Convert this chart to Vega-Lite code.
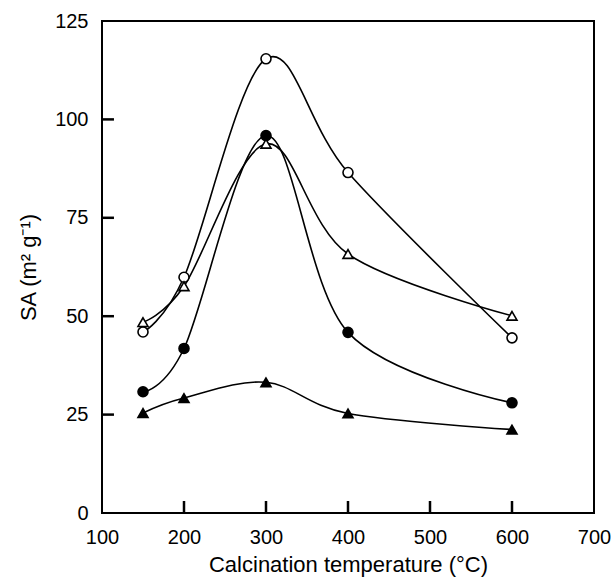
{
  "$schema": "https://vega.github.io/schema/vega-lite/v6.json",
  "width": 492,
  "height": 492,
  "autosize": "none",
  "padding": {"left": 102, "top": 21, "right": 19, "bottom": 66},
  "background": "white",
  "config": {
    "font": "Liberation Sans",
    "view": {"stroke": "black", "strokeWidth": 2},
    "axis": {
      "domain": false,
      "ticks": false,
      "labelColor": "black", "labelFontSize": 20, "labelFont": "Liberation Sans",
      "titleColor": "black", "titleFontSize": 22, "titleFontWeight": "normal", "titleFont": "Liberation Sans",
      "grid": false
    }
  },
  "datasets": {
    "curves": [
      {"T": 150, "SA": 46.0, "series": "A"},
      {"T": 200, "SA": 59.9, "series": "A"},
      {"T": 300, "SA": 115.4, "series": "A"},
      {"T": 400, "SA": 86.5, "series": "A"},
      {"T": 600, "SA": 44.5, "series": "A"},
      {"T": 150, "SA": 30.8, "series": "B"},
      {"T": 200, "SA": 41.8, "series": "B"},
      {"T": 300, "SA": 95.9, "series": "B"},
      {"T": 400, "SA": 45.9, "series": "B"},
      {"T": 600, "SA": 28.0, "series": "B"},
      {"T": 150, "SA": 48.5, "series": "C"},
      {"T": 200, "SA": 57.6, "series": "C"},
      {"T": 300, "SA": 93.8, "series": "C"},
      {"T": 400, "SA": 65.8, "series": "C"},
      {"T": 600, "SA": 50.1, "series": "C"},
      {"T": 150, "SA": 25.4, "series": "D"},
      {"T": 200, "SA": 29.2, "series": "D"},
      {"T": 300, "SA": 33.2, "series": "D"},
      {"T": 400, "SA": 25.3, "series": "D"},
      {"T": 600, "SA": 21.2, "series": "D"}
    ],
    "ticks": [
      {"T": 200, "SA": 0, "k": "x200"}, {"T": 200, "SA": 3.05, "k": "x200"},
      {"T": 300, "SA": 0, "k": "x300"}, {"T": 300, "SA": 3.05, "k": "x300"},
      {"T": 400, "SA": 0, "k": "x400"}, {"T": 400, "SA": 3.05, "k": "x400"},
      {"T": 500, "SA": 0, "k": "x500"}, {"T": 500, "SA": 3.05, "k": "x500"},
      {"T": 600, "SA": 0, "k": "x600"}, {"T": 600, "SA": 3.05, "k": "x600"},
      {"T": 100, "SA": 25, "k": "y25"}, {"T": 114.6, "SA": 25, "k": "y25"},
      {"T": 100, "SA": 50, "k": "y50"}, {"T": 114.6, "SA": 50, "k": "y50"},
      {"T": 100, "SA": 75, "k": "y75"}, {"T": 114.6, "SA": 75, "k": "y75"},
      {"T": 100, "SA": 100, "k": "y100"}, {"T": 114.6, "SA": 100, "k": "y100"}
    ]
  },
  "encoding": {
    "x": {
      "field": "T", "type": "quantitative",
      "scale": {"domain": [100, 700], "nice": false, "zero": false},
      "axis": {"values": [100, 200, 300, 400, 500, 600, 700], "title": "Calcination temperature (°C)", "labelPadding": 14, "titlePadding": 7, "labelFlush": false, "labelOverlap": false}
    },
    "y": {
      "field": "SA", "type": "quantitative",
      "scale": {"domain": [0, 125], "nice": false},
      "axis": {"values": [0, 25, 50, 75, 100, 125], "title": "SA (m² g⁻¹)", "labelPadding": 14, "titlePadding": 14, "labelFlush": false, "labelOverlap": false}
    }
  },
  "layer": [
    {
      "data": {"name": "curves"},
      "mark": {"type": "line", "interpolate": "cardinal", "color": "black", "strokeWidth": 1.6},
      "encoding": {"detail": {"field": "series"}}
    },
    {
      "data": {"name": "curves"},
      "mark": {"type": "point", "filled": false, "stroke": "black", "strokeWidth": 1.6, "opacity": 1},
      "encoding": {
        "shape": {"field": "series", "type": "nominal", "scale": {"domain": ["A", "B", "C", "D"], "range": ["circle", "circle", "triangle-up", "triangle-up"]}, "legend": null},
        "fill": {"field": "series", "type": "nominal", "scale": {"domain": ["A", "B", "C", "D"], "range": ["white", "black", "white", "black"]}, "legend": null},
        "size": {"field": "series", "type": "nominal", "scale": {"domain": ["A", "B", "C", "D"], "range": [100, 100, 140, 140]}, "legend": null}
      }
    },
    {
      "data": {"name": "ticks"},
      "mark": {"type": "line", "stroke": "black", "strokeWidth": 2.5, "opacity": 1, "clip": false},
      "encoding": {"detail": {"field": "k", "type": "nominal"}, "order": {"field": "SA", "type": "quantitative"}}
    }
  ]
}
